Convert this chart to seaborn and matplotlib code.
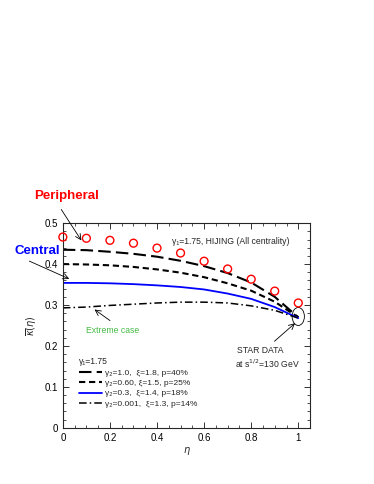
import numpy as np
import pandas as pd
import matplotlib
matplotlib.use("Agg")
import matplotlib.pyplot as plt
import seaborn as sns
from matplotlib.patches import Ellipse
from matplotlib.ticker import MultipleLocator

sns.set_style("ticks")
plt.rcParams['font.family'] = ['Liberation Sans', 'DejaVu Sans']
plt.rcParams['mathtext.fontset'] = 'dejavusans'

eta = [0.0, 0.1, 0.2, 0.3, 0.4, 0.5, 0.6, 0.7, 0.8, 0.9, 1.0]
hijing = [0.466, 0.463, 0.458, 0.451, 0.439, 0.427, 0.407, 0.388, 0.363, 0.334, 0.305]
k_p40 = [0.435, 0.434, 0.430, 0.425, 0.418, 0.408, 0.395, 0.378, 0.355, 0.320, 0.270]
k_p25 = [0.400, 0.399, 0.397, 0.393, 0.387, 0.379, 0.368, 0.353, 0.335, 0.308, 0.270]
k_p18 = [0.354, 0.354, 0.353, 0.351, 0.348, 0.344, 0.338, 0.328, 0.315, 0.295, 0.268]
k_p14 = [0.293, 0.295, 0.299, 0.302, 0.305, 0.307, 0.307, 0.305, 0.298, 0.287, 0.268]
labels = ['γ₂=1.0,  ξ=1.8, p=40%',
          'γ₂=0.60, ξ=1.5, p=25%',
          'γ₂=0.3,  ξ=1.4, p=18%',
          'γ₂=0.001,  ξ=1.3, p=14%']

fig = plt.figure(figsize=(3.74, 4.84), dpi=100)
ax = fig.add_axes([0.168, 0.116, 0.661, 0.423])

styles = [dict(color='black', dashes=(6, 2.5), lw=1.5),
          dict(color='black', dashes=(3, 1.8), lw=1.5),
          dict(color='blue', dashes=(), lw=1.3),
          dict(color='black', dashes=(5, 2, 1, 2), lw=1.1)]
handles = []
for ys, st, lab in zip([k_p40, k_p25, k_p18, k_p14], styles, labels):
    df = pd.DataFrame({'eta': eta, 'k': ys})
    sns.lineplot(data=df, x='eta', y='k', ax=ax, color=st['color'], lw=st['lw'])
    ln = ax.lines[-1]
    if st['dashes']:
        ln.set_dashes(st['dashes'])
    handles.append(ln)

sns.scatterplot(x=eta, y=hijing, ax=ax, marker='o', s=32, facecolor='none',
                edgecolor='red', linewidth=1.0, zorder=5)
ax.collections[-1].set_clip_on(False)

ax.set_xlim(0, 1.05)
ax.set_ylim(0, 0.5)
ax.xaxis.set_minor_locator(MultipleLocator(0.05))
ax.yaxis.set_minor_locator(MultipleLocator(0.02))
ax.set_xticks([0, 0.2, 0.4, 0.6, 0.8, 1.0])
ax.set_xticklabels(['0', '0.2', '0.4', '0.6', '0.8', '1'])
ax.set_yticks([0, 0.1, 0.2, 0.3, 0.4, 0.5])
ax.set_yticklabels(['0', '0.1', '0.2', '0.3', '0.4', '0.5'])
ax.tick_params(which='both', direction='in', top=True, right=True, labelsize=7, colors='#333333', labelcolor='black')
ax.tick_params(which='major', length=4, width=0.7)
ax.tick_params(which='minor', length=2, width=0.6)
for s in ax.spines.values():
    s.set_linewidth(0.8)
    s.set_visible(True)
ax.set_xlabel(r'$\eta$', fontsize=7, labelpad=2)
ax.set_ylabel(r'$\overline{\kappa}(\eta)$', fontsize=7, labelpad=4)

ax.text(0.462, 0.454, 'γ₁=1.75, HIJING (All centrality)', fontsize=6.2, va='center')

leg = ax.legend(handles=handles, labels=labels, loc='lower left', bbox_to_anchor=(0.04, 0.07),
                frameon=False, fontsize=6.0, handlelength=2.8, handletextpad=0.4,
                labelspacing=0.33, handleheight=0.6, title='γ₁=1.75', title_fontsize=6.2,
                alignment='left', borderpad=0.2)

ell = Ellipse((1.0, 0.272), 0.052, 0.044, fill=False, lw=0.6, color='black')
ax.add_patch(ell)
ax.annotate('', xy=(0.995, 0.26), xytext=(0.89, 0.207),
            arrowprops=dict(arrowstyle='->', lw=0.6, color='black'))
ax.text(0.84, 0.188, 'STAR DATA', fontsize=6.2, ha='center', va='center')
ax.text(0.87, 0.156, r'at s$^{1/2}$=130 GeV', fontsize=6.2, ha='center', va='center')

ax.text(0.213, 0.237, 'Extreme case', fontsize=6.2, color='#44bb44', ha='center', va='center')
ax.annotate('', xy=(0.125, 0.293), xytext=(0.21, 0.258),
            arrowprops=dict(arrowstyle='->', lw=0.6, color='black'))

fig.text(0.179, 0.595, 'Peripheral', fontsize=9.5, color='red', fontweight='bold', ha='center', va='center')
ax.annotate('', xy=(0.085, 0.452), xytext=(-0.013, 0.539),
            arrowprops=dict(arrowstyle='->', lw=0.6, color='black'), annotation_clip=False)
fig.text(0.099, 0.481, 'Central', fontsize=9.5, color='blue', fontweight='bold', ha='center', va='center')
ax.annotate('', xy=(0.038, 0.361), xytext=(-0.153, 0.41),
            arrowprops=dict(arrowstyle='->', lw=0.6, color='black'), annotation_clip=False)

fig.savefig('out.png', dpi=100)
